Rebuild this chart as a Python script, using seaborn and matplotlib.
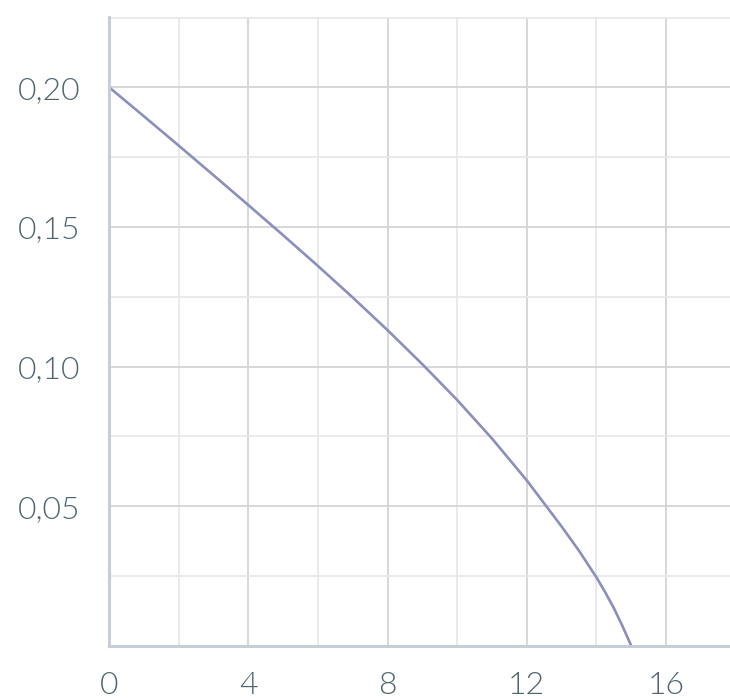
import matplotlib
matplotlib.use("Agg")
import matplotlib.pyplot as plt
import matplotlib.ticker as mticker
import seaborn as sns
import pandas as pd

# Curve
x_vals = [0, 1, 2, 3, 4, 5, 6, 7, 8, 9, 10, 11, 12, 13, 13.5, 14, 14.25, 14.5, 14.75, 15]
y_vals = [0.2000, 0.1896, 0.1791, 0.1685, 0.1578, 0.1470, 0.1360, 0.1247, 0.1130,
          0.1008, 0.0880, 0.0742, 0.0592, 0.0427, 0.0340, 0.0245, 0.0192, 0.0135,
          0.0070, 0.0]

x_ticks = [0, 4, 8, 12, 16]
y_ticks = [0.05, 0.10, 0.15, 0.20]

df = pd.DataFrame({"x": x_vals, "y": y_vals})

sns.set_style("white")
plt.rcParams["font.family"] = ["Lato", "DejaVu Sans"]

fig = plt.figure(figsize=(7.3, 6.99), dpi=100)
ax = fig.add_axes([0.1497, 0.0763, 0.8503, 0.8997])

sns.lineplot(data=df, x="x", y="y", ax=ax, color="#8a8fbb", linewidth=1.9)

ax.set_xlim(0, 17.84)
ax.set_ylim(0, 0.2253)

ax.set_xticks(x_ticks)
ax.set_yticks(y_ticks)
ax.xaxis.set_minor_locator(mticker.MultipleLocator(2))
ax.yaxis.set_minor_locator(mticker.MultipleLocator(0.025))
ax.yaxis.set_major_formatter(mticker.FuncFormatter(lambda v, p: f"{v:.2f}".replace(".", ",")))

ax.grid(True, which="major", color="#d2d4d6", linewidth=1.3)
ax.grid(True, which="minor", color="#e6e8ea", linewidth=1.3)
ax.set_axisbelow(True)

ax.tick_params(axis="both", which="both", length=0, labelsize=23, labelcolor="#4f6570")
ax.tick_params(axis="y", pad=21)
ax.tick_params(axis="x", pad=18)
for lab in ax.get_xticklabels() + ax.get_yticklabels():
    lab.set_fontweight(300)

for s in ["top", "right"]:
    ax.spines[s].set_visible(False)
for s in ["left", "bottom"]:
    ax.spines[s].set_color("#c7cfd6")
    ax.spines[s].set_linewidth(2.2)

ax.set_xlabel("")
ax.set_ylabel("")

fig.savefig("out.png", dpi=100)
